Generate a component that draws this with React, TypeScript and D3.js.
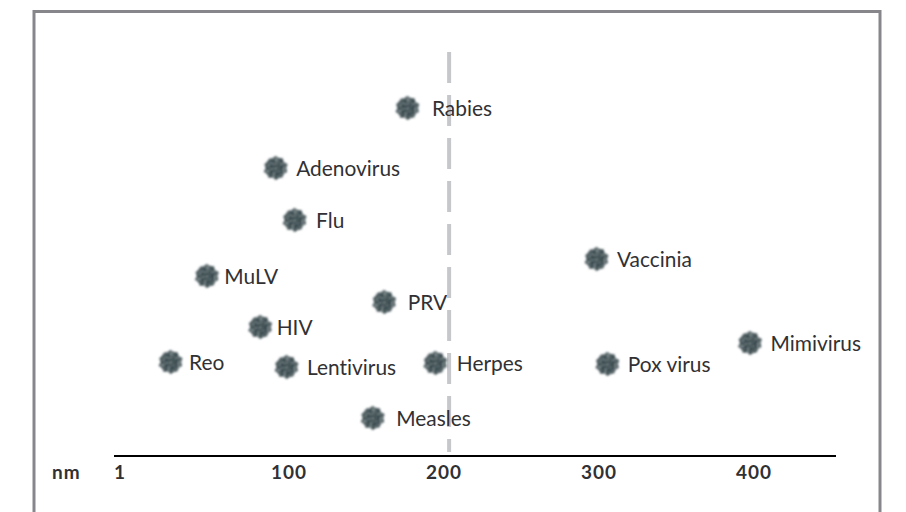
import React from "react";
import * as d3 from "d3";

const W = 906, H = 512;
const names = ["Rabies","Adenovirus","Flu","Vaccinia","MuLV","PRV","HIV","Mimivirus","Reo","Lentivirus","Herpes","Pox virus","Measles"];
const sizes = [176.4,91.4,103.6,298.4,47,161.4,81.4,397.4,23.6,98.4,194.4,305.4,154];
const levels = [87,72,59,49.25,45,38.5,32.25,28.25,23.5,22.25,23.25,23,9.5];
const labelGaps = [24.5,20.5,21.5,20.5,17.5,23.5,16.5,20.5,18.5,20.5,21.5,20.5,23.5];
const tickValues = [100,200,300,400];
const firstTick = "1";
const refLine = 203.3;
const spikes = [12,10.5,12,10,12.5,10.5,12,10,11.5,10.5,12,10,12,10.5,12.5,10,12,10.5,11.5,10.5];

const x = d3.scaleLinear().domain([0,400]).range([134,754]);
const y = d3.scaleLinear().domain([0,100]).range([456,56]);
const blob = d3.lineRadial<number>().angle((_, i) => i/spikes.length*2*Math.PI).radius(d=>d).curve(d3.curveLinearClosed)(spikes) as string;

const font = "Lato, 'Open Sans', sans-serif";
const ink = "#313134";
export default function App(){
  return (
    <svg width={W} height={H} style={{position:"fixed",left:0,top:0,background:"#fff"}} fontFamily={font}>
      <defs>
        <filter id="b" x="-25%" y="-25%" width="150%" height="150%">
          <feTurbulence type="fractalNoise" baseFrequency="0.4" numOctaves={2} seed={4} result="n"/>
          <feColorMatrix in="n" type="matrix" values="0 0 0 0 0.45  0 0 0 0 0.53  0 0 0 0 0.55  1.4 0 0 0 -0.62" result="spots"/>
          <feComposite in="spots" in2="SourceAlpha" operator="in" result="tex"/>
          <feMerge result="m"><feMergeNode in="SourceGraphic"/><feMergeNode in="tex"/></feMerge>
          <feGaussianBlur in="m" stdDeviation="1"/>
        </filter>
      </defs>
      <rect x={34} y={11.5} width={846} height={H+20} fill="none" stroke="#87878b" strokeWidth={3}/>
      <line x1={x(refLine)} x2={x(refLine)} y1={52} y2={452} stroke="#c6c7cb" strokeWidth={4} strokeDasharray="31 12"/>
      {names.map((n,i)=>(
        <g key={n}>
          <path d={blob} transform={`translate(${x(sizes[i])},${y(levels[i])})`} fill="#36464c" filter="url(#b)"/>
          <text x={x(sizes[i])+labelGaps[i]} y={y(levels[i])+7.5} fontSize={20.9} fill={ink} style={{fontVariantLigatures:"none"}}>{n}</text>
        </g>
      ))}
      <line x1={114} x2={836} y1={456} y2={456} stroke="#000" strokeWidth={2}/>
      <text x={52} y={479} fontSize={19} fontWeight={700} letterSpacing={1} fill={ink}>nm</text>
      <text x={114} y={479} fontSize={19} fontWeight={700} fill={ink}>{firstTick}</text>
      {tickValues.map(t=>(
        <text key={t} x={x(t)} y={479} textAnchor="middle" fontSize={19} fontWeight={700} letterSpacing={1} fill={ink}>{t}</text>
      ))}
    </svg>
  );
}
